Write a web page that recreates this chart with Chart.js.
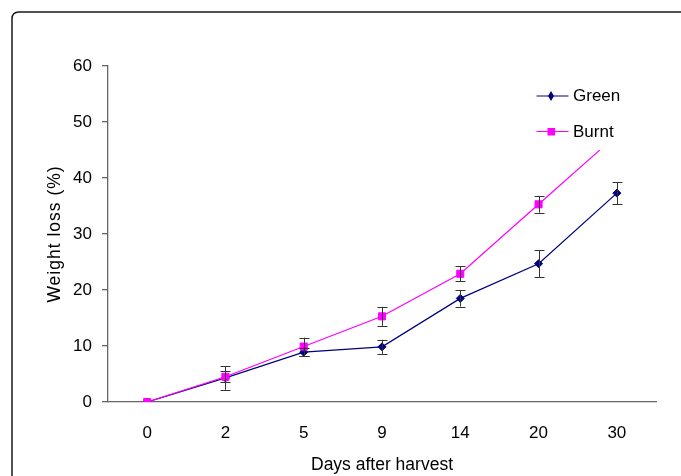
<!DOCTYPE html>
<html>
<head>
<meta charset="utf-8">
<script src="https://cdn.jsdelivr.net/npm/chart.js@4/dist/chart.umd.min.js"></script>
<style>
html,body{margin:0;padding:0;background:#fff;}
#wrap{position:relative;width:681px;height:476px;}
</style>
</head>
<body>
<div id="wrap"><canvas id="c" width="681" height="476"></canvas></div>
<script>
const days = ['0', '2', '5', '9', '14', '20', '30'];
const green = [0, 4.3, 8.9, 9.85, 18.5, 24.7, 37.3];
const greenErr = [0, 2.1, 0.7, 1.25, 1.45, 2.4, 1.95];
const burnt = [0, 4.5, 9.9, 15.3, 22.9, 35.3, 47.7];
const burntErr = [0, 1.0, 1.6, 1.7, 1.35, 1.5, 1.5];
const yTicks = [0, 10, 20, 30, 40, 50, 60];
const seriesNames = ['Green', 'Burnt'];
const xTitle = 'Days after harvest';
const yTitle = 'Weight loss (%)';
const NAVY = '#000080';
const MAGENTA = '#FF00FF';
const FONT = "'Liberation Sans', Arial, sans-serif";

const framePlugin = {
  id: 'frame',
  beforeDraw(chart) {
    const ctx = chart.ctx;
    ctx.save();
    ctx.fillStyle = '#fff';
    ctx.fillRect(0, 0, chart.width, chart.height);
    ctx.strokeStyle = '#1a1a1a';
    ctx.lineWidth = 1.5;
    const x = 12, y = 12, w = 800, h = 600, r = 7;
    ctx.beginPath();
    ctx.moveTo(x + r, y);
    ctx.lineTo(x + w, y);
    ctx.lineTo(x + w, y + h);
    ctx.lineTo(x, y + h);
    ctx.lineTo(x, y + r);
    ctx.quadraticCurveTo(x, y, x + r, y);
    ctx.stroke();
    ctx.restore();
  }
};

const errorBarPlugin = {
  id: 'errbars',
  afterDatasetsDraw(chart) {
    const ctx = chart.ctx;
    const xs = chart.scales.x, ys = chart.scales.y;
    const sets = [[green, greenErr], [burnt, burntErr]];
    ctx.save();
    ctx.strokeStyle = '#333';
    ctx.lineWidth = 1;
    sets.forEach(([vals, errs]) => {
      vals.forEach((v, i) => {
        const e = errs[i];
        if (!e) return;
        const px = Math.round(xs.getPixelForValue(i)) + 0.5;
        const t = ys.getPixelForValue(v + e);
        const b = ys.getPixelForValue(v - e);
        ctx.beginPath();
        ctx.moveTo(px, t); ctx.lineTo(px, b);
        ctx.moveTo(px - 5, Math.round(t) + 0.5); ctx.lineTo(px + 5, Math.round(t) + 0.5);
        ctx.moveTo(px - 5, Math.round(b) + 0.5); ctx.lineTo(px + 5, Math.round(b) + 0.5);
        ctx.stroke();
      });
    });
    ctx.restore();
  }
};

const overlayPlugin = {
  id: 'overlay',
  afterDraw(chart) {
    const ctx = chart.ctx;
    ctx.save();
    // y axis title
    ctx.translate(55, (chart.chartArea.top + chart.chartArea.bottom) / 2);
    ctx.rotate(-Math.PI / 2);
    ctx.fillStyle = '#000';
    ctx.font = '17.5px ' + FONT;
    if ('letterSpacing' in ctx) ctx.letterSpacing = '1px';
    ctx.textAlign = 'center';
    ctx.textBaseline = 'middle';
    ctx.fillText(yTitle, 0, 0);
    ctx.restore();

    // legend
    ctx.save();
    ctx.fillStyle = '#fff';
    ctx.fillRect(528, 78, 112, 72);
    const items = [
      {name: seriesNames[0], color: NAVY, y: 96, shape: 'diamond'},
      {name: seriesNames[1], color: MAGENTA, y: 131.5, shape: 'square'}
    ];
    items.forEach(it => {
      ctx.strokeStyle = it.color;
      ctx.lineWidth = 1.2;
      ctx.beginPath();
      ctx.moveTo(536.5, it.y); ctx.lineTo(568.5, it.y);
      ctx.stroke();
      ctx.fillStyle = it.color;
      ctx.beginPath();
      if (it.shape === 'diamond') {
        ctx.moveTo(551, it.y - 5); ctx.lineTo(554, it.y); ctx.lineTo(551, it.y + 5); ctx.lineTo(548, it.y);
        ctx.closePath();
      } else {
        ctx.rect(547.5, it.y - 3.5, 7.5, 7.5);
      }
      ctx.fill();
      ctx.fillStyle = '#000';
      ctx.font = '17px ' + FONT;
      ctx.textBaseline = 'middle';
      ctx.textAlign = 'left';
      ctx.fillText(it.name, 573, it.y + 0.5);
    });
    ctx.restore();
  }
};

new Chart(document.getElementById('c'), {
  type: 'line',
  data: {
    labels: days,
    datasets: [
      {
        label: seriesNames[0], data: green, borderColor: NAVY, backgroundColor: NAVY,
        borderWidth: 1.2, pointStyle: 'rectRot', pointRadius: 4, pointBorderWidth: 1,
        pointBorderColor: NAVY, pointBackgroundColor: NAVY, tension: 0, order: 1
      },
      {
        label: seriesNames[1], data: burnt, borderColor: MAGENTA, backgroundColor: MAGENTA,
        borderWidth: 1.2, pointStyle: 'rect', pointRadius: 5, pointBorderWidth: 1,
        pointBorderColor: MAGENTA, pointBackgroundColor: MAGENTA, tension: 0, order: 0
      }
    ]
  },
  options: {
    responsive: false,
    animation: false,
    devicePixelRatio: 1,
    layout: {padding: {left: 0, right: 25, top: 66, bottom: 0}},
    plugins: {legend: {display: false}, tooltip: {enabled: false}},
    scales: {
      x: {
        type: 'category',
        offset: true,
        grid: {display: true, drawOnChartArea: false, drawTicks: false},
        border: {display: true, color: '#666', width: 1.3},
        ticks: {color: '#000', font: {family: FONT, size: 17}, padding: 21, maxRotation: 0, autoSkip: false},
        title: {display: true, text: xTitle, color: '#000', font: {family: FONT, size: 17.5}, padding: {top: 0, bottom: 0}},
        afterFit(s) { s.height = 74; }
      },
      y: {
        min: 0, max: 60,
        afterBuildTicks(s) { s.ticks = yTicks.map(v => ({value: v})); },
        grid: {drawOnChartArea: false, drawTicks: true, tickLength: 6, color: '#666', lineWidth: 1.3},
        border: {display: true, color: '#666', width: 1.3},
        ticks: {color: '#000', font: {family: FONT, size: 17}, padding: 10},
        title: {display: false},
        afterFit(s) { s.width = 108; }
      }
    }
  },
  plugins: [framePlugin, errorBarPlugin, overlayPlugin]
});
</script>
</body>
</html>
